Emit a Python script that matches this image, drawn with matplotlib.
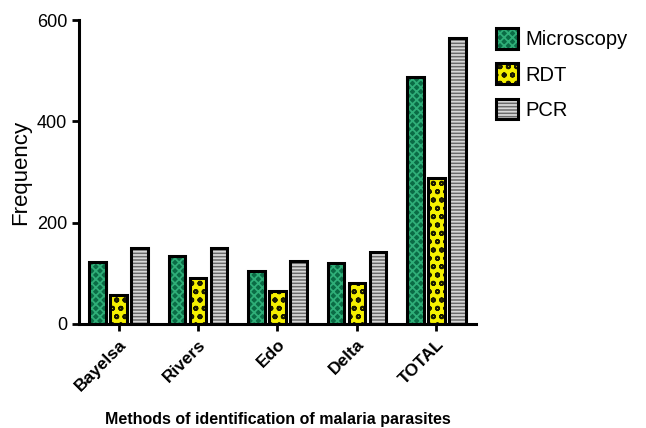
import matplotlib
matplotlib.use("Agg")
import matplotlib.pyplot as plt
import matplotlib.patches as mpatches
from matplotlib.legend_handler import HandlerTuple
import numpy as np

plt.rcParams['font.family'] = ['Liberation Sans', 'DejaVu Sans']
plt.rcParams['hatch.linewidth'] = 1.3

categories = ["Bayelsa", "Rivers", "Edo", "Delta", "TOTAL"]
microscopy = [122, 134, 105, 120, 487]
rdt = [57, 91, 65, 81, 288]
pcr = [150, 150, 124, 142, 564]

series = [
    ("Microscopy", microscopy, "#0a6b45", "#2fae78", "xxxx"),
    ("RDT", rdt, "#f5f000", "#1a1a00", "oo"),
    ("PCR", pcr, "#6a6a6a", "#d8d8d8", "-----"),
]

fig = plt.figure(figsize=(6.46, 4.28), dpi=100)
ax = fig.add_axes([0.122, 0.243, 0.615, 0.71])

x = np.arange(len(categories))
w = 0.21
offs = [-0.265, 0.0, 0.265]
handles = []
for (name, vals, fc, hc, hatch), off in zip(series, offs):
    ax.bar(x + off, vals, w, color=fc, edgecolor=hc, hatch=hatch, linewidth=0, zorder=2)
    ax.bar(x + off, vals, w, fill=False, edgecolor="black", linewidth=2.2, zorder=3)
    handles.append((mpatches.Patch(facecolor=fc, edgecolor=hc, hatch=hatch, linewidth=0),
                    mpatches.Patch(fill=False, edgecolor="black", linewidth=2.2)))

ax.set_xlim(-0.5, 4.5)
ax.set_ylim(0, 600)
ax.set_yticks([0, 200, 400, 600])
ax.set_xticks(x)
ax.set_xticklabels(categories, rotation=45, ha="right", rotation_mode="anchor",
                   fontsize=12.5, fontweight="bold")
for lab in ax.get_yticklabels():
    lab.set_fontsize(13)
ax.spines["top"].set_visible(False)
ax.spines["right"].set_visible(False)
ax.spines["left"].set_linewidth(2.2)
ax.spines["bottom"].set_linewidth(2.2)
ax.tick_params(axis="both", width=2, length=5, direction="out")
ax.tick_params(axis="x", pad=4)
ax.set_ylabel("Frequency", fontsize=16, labelpad=4)
ax.set_xlabel("Methods of identification of malaria parasites", fontsize=11.5,
              fontweight="bold", labelpad=13)

leg = ax.legend(handles, [s[0] for s in series], loc="upper left",
                handler_map={tuple: HandlerTuple(ndivide=1)},
                bbox_to_anchor=(1.03, 1.0), frameon=False, fontsize=14.5,
                handlelength=1.1, handleheight=1.2, handletextpad=0.35,
                labelspacing=0.7, borderaxespad=0.0)

fig.savefig("out.png", dpi=100)
